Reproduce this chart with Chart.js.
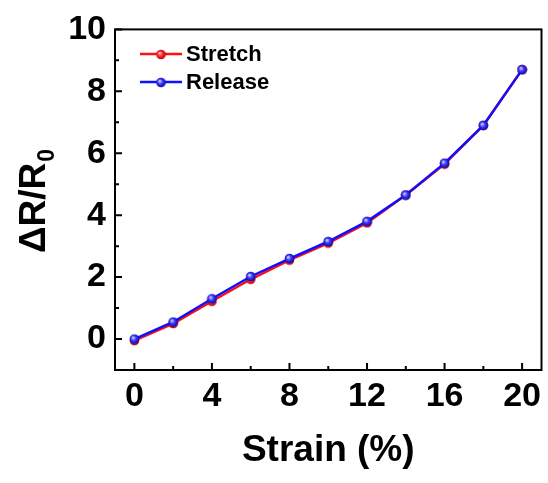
<!DOCTYPE html>
<html>
<head>
<meta charset="utf-8">
<script src="https://cdn.jsdelivr.net/npm/chart.js@4.4.1/dist/chart.umd.min.js"></script>
<style>
  html, body { margin: 0; padding: 0; background: #fff; }
</style>
</head>
<body>
<canvas id="strainChart" width="548" height="483"></canvas>
<script>
const strain = [0, 2, 4, 6, 8, 10, 12, 14, 16, 18, 20];
const stretch = [-0.05, 0.5, 1.22, 1.93, 2.55, 3.1, 3.75, 4.65, 5.65, 6.9, 8.7];
const release = [0.0, 0.55, 1.3, 2.02, 2.6, 3.15, 3.8, 4.65, 5.68, 6.9, 8.7];
const xTicks = [0, 4, 8, 12, 16, 20];
const yTicks = [0, 2, 4, 6, 8, 10];
const xMinor = [2, 6, 10, 14, 18];
const yMinor = [1, 3, 5, 7, 9];
const seriesNames = ['Stretch', 'Release'];

const RED = '#ff1010';
const BLUE = '#1010ff';
const FONT = '"Liberation Sans", Arial, sans-serif';

// little shaded ball used as the point marker
function sphere(base, dark, light) {
  const c = document.createElement('canvas');
  c.width = c.height = 11;
  const g = c.getContext('2d');
  const grad = g.createRadialGradient(4, 4, 0.3, 5.5, 5.5, 5.2);
  grad.addColorStop(0, light);
  grad.addColorStop(0.45, base);
  grad.addColorStop(1, dark);
  g.fillStyle = grad;
  g.beginPath();
  g.arc(5.5, 5.5, 4.8, 0, Math.PI * 2);
  g.fill();
  return c;
}
const redBall = sphere('#ff2a2a', '#b00000', '#ffd0d0');
const blueBall = sphere('#3a3aff', '#0000a8', '#d8d8ff');

const toPoints = ys => strain.map((x, i) => ({ x, y: ys[i] }));

// frame, inward ticks, y title with subscript and the legend
const decorations = {
  id: 'decorations',
  afterDraw(chart) {
    const { ctx, chartArea: a, scales } = chart;
    const xs = scales.x, ys = scales.y;
    ctx.save();
    ctx.strokeStyle = '#000';
    ctx.lineWidth = 2;
    ctx.strokeRect(a.left, a.top, a.right - a.left, a.bottom - a.top);

    ctx.lineWidth = 2;
    ctx.beginPath();
    xTicks.forEach(v => { const p = xs.getPixelForValue(v); ctx.moveTo(p, a.bottom); ctx.lineTo(p, a.bottom - 7); });
    xMinor.forEach(v => { const p = xs.getPixelForValue(v); ctx.moveTo(p, a.bottom); ctx.lineTo(p, a.bottom - 4); });
    yTicks.forEach(v => { const p = ys.getPixelForValue(v); ctx.moveTo(a.left, p); ctx.lineTo(a.left + 7, p); });
    yMinor.forEach(v => { const p = ys.getPixelForValue(v); ctx.moveTo(a.left, p); ctx.lineTo(a.left + 4, p); });
    ctx.stroke();

    // ΔR/R0, rotated
    ctx.save();
    ctx.translate(45, 253);
    ctx.rotate(-Math.PI / 2);
    ctx.fillStyle = '#000';
    ctx.textBaseline = 'alphabetic';
    ctx.textAlign = 'left';
    ctx.font = 'bold 37px ' + FONT;
    const main = 'ΔR/R';
    ctx.fillText(main, 0, 0);
    const w = ctx.measureText(main).width;
    ctx.font = 'bold 23px ' + FONT;
    ctx.fillText('0', w + 1, 9);
    ctx.restore();

    // legend
    const items = [[RED, redBall, 54], [BLUE, blueBall, 82]];
    ctx.font = 'bold 22px ' + FONT;
    ctx.textBaseline = 'middle';
    ctx.textAlign = 'left';
    items.forEach(([col, ball, y], i) => {
      ctx.strokeStyle = col;
      ctx.lineWidth = 2.5;
      ctx.beginPath();
      ctx.moveTo(140, y);
      ctx.lineTo(182, y);
      ctx.stroke();
      ctx.drawImage(ball, 161 - ball.width / 2, y - ball.height / 2 + 0.5);
      ctx.fillStyle = '#000';
      ctx.fillText(seriesNames[i], 186, y + 1);
    });
    ctx.restore();
  }
};

new Chart(document.getElementById('strainChart'), {
  type: 'line',
  data: {
    datasets: [{
      label: seriesNames[0],
      data: toPoints(stretch),
      borderColor: RED,
      borderWidth: 2.5,
      pointStyle: redBall,
      order: 1
    }, {
      label: seriesNames[1],
      data: toPoints(release),
      borderColor: BLUE,
      borderWidth: 2.5,
      pointStyle: blueBall,
      order: 0
    }]
  },
  options: {
    responsive: false,
    animation: false,
    devicePixelRatio: 1,
    layout: { padding: { top: 25, right: 6, left: 0, bottom: 0 } },
    plugins: { legend: { display: false }, tooltip: { enabled: false } },
    elements: { line: { tension: 0 } },
    scales: {
      x: {
        type: 'linear',
        min: -1,
        max: 21,
        afterBuildTicks: s => { s.ticks = xTicks.map(v => ({ value: v })); },
        afterFit: s => { s.height = 113; },
        grid: { display: false, drawTicks: false },
        border: { display: false },
        ticks: { color: '#000', padding: 6, font: { family: FONT, size: 34, weight: 'bold' } },
        title: {
          display: true,
          text: 'Strain (%)',
          color: '#000',
          font: { family: FONT, size: 37, weight: 'bold' },
          padding: { top: 0, bottom: 10 }
        }
      },
      y: {
        min: -1,
        max: 10,
        afterBuildTicks: s => { s.ticks = yTicks.map(v => ({ value: v })); },
        afterFit: s => { s.width = 115; },
        grid: { display: false, drawTicks: false },
        border: { display: false },
        ticks: { color: '#000', padding: 9, font: { family: FONT, size: 34, weight: 'bold' } }
      }
    }
  },
  plugins: [decorations]
});
</script>
</body>
</html>
